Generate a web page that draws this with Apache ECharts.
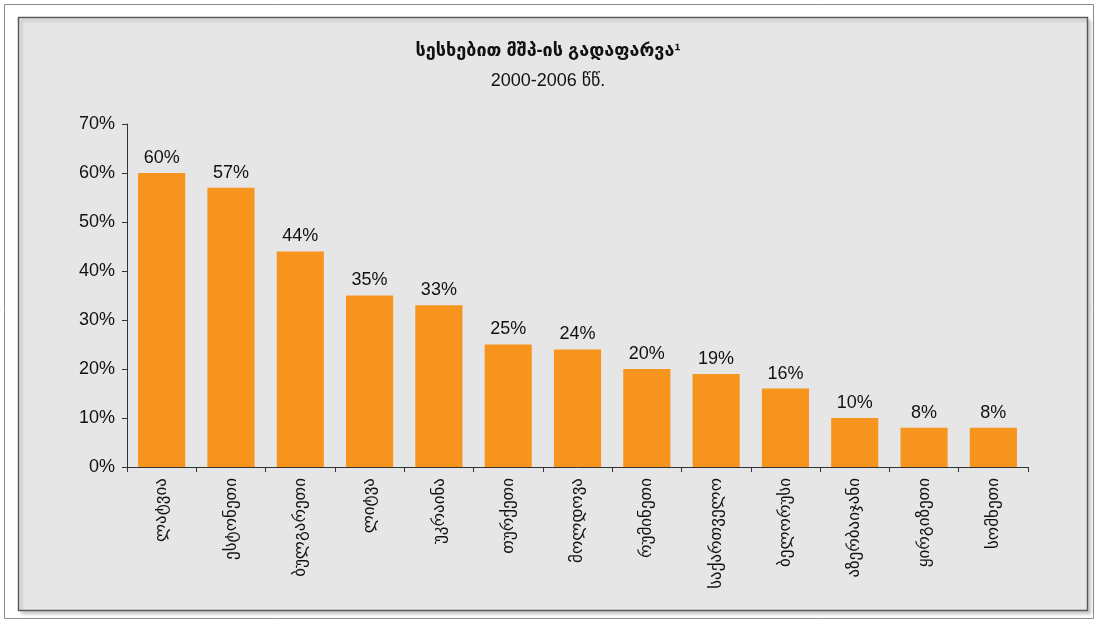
<!DOCTYPE html>
<html>
<head>
<meta charset="utf-8">
<script src="https://cdn.jsdelivr.net/npm/echarts@6/dist/echarts.min.js"></script>
<style>
  html, body { margin: 0; padding: 0; background: #ffffff; }
  #chart { width: 1096px; height: 621px; }
</style>
</head>
<body>
<div id="chart"></div>
<script>
// Loan-to-GDP coverage by country, 2000-2006
const countries = ['ლატვია', 'ესტონეთი', 'ბულგარეთი', 'ლიტვა', 'უკრაინა', 'თურქეთი', 'მოლდოვა', 'რუმინეთი', 'საქართველო', 'ბელორუსი', 'აზერბაიჯანი', 'ყირგიზეთი', 'სომხეთი'];
const coverage = [60, 57, 44, 35, 33, 25, 24, 20, 19, 16, 10, 8, 8];
const titleText = 'სესხებით მშპ-ის გადაფარვა¹';
const subtitleText = '2000-2006 წწ.';

const FONT = '"Liberation Sans", "DejaVu Sans", sans-serif';

const chart = echarts.init(document.getElementById('chart'), null, { renderer: 'canvas' });

chart.setOption({
  animation: false,
  backgroundColor: '#ffffff',
  graphic: [
    {
      type: 'rect', z: -10, silent: true,
      shape: { x: 4.5, y: 4.5, width: 1089, height: 614 },
      style: { fill: '#ffffff', stroke: '#8c8c8c', lineWidth: 1 }
    },
    {
      type: 'rect', z: -9, silent: true,
      shape: { x: 18.5, y: 17.5, width: 1069, height: 593 },
      style: {
        fill: '#e6e6e6', stroke: '#5a5a5a', lineWidth: 1.5,
        shadowColor: 'rgba(0,0,0,0.18)', shadowBlur: 3, shadowOffsetX: 3, shadowOffsetY: 3
      }
    }
  ],
  title: [
    {
      text: titleText,
      left: 'center', top: 37,
      textStyle: { fontFamily: FONT, fontSize: 18, fontWeight: 'bold', color: '#111111' }
    },
    {
      text: subtitleText,
      left: 'center', top: 67,
      textStyle: { fontFamily: FONT, fontSize: 18, fontWeight: 'normal', color: '#111111' }
    }
  ],
  grid: { left: 127, right: 68, top: 124, bottom: 154, containLabel: false },
  xAxis: {
    type: 'category',
    data: countries,
    axisLine: { lineStyle: { color: '#333333', width: 1 } },
    axisTick: { show: true, alignWithLabel: false, length: 5, lineStyle: { color: '#333333' } },
    axisLabel: {
      rotate: 90, interval: 0, margin: 11,
      fontFamily: FONT, fontSize: 17, color: '#111111'
    }
  },
  yAxis: {
    type: 'value',
    min: 0, max: 70, interval: 10,
    axisLine: { show: true, lineStyle: { color: '#333333', width: 1 } },
    axisTick: { show: true, length: 5, lineStyle: { color: '#333333' } },
    splitLine: { show: false },
    axisLabel: {
      formatter: '{value}%', margin: 12,
      fontFamily: FONT, fontSize: 18, color: '#111111'
    }
  },
  series: [
    {
      type: 'bar',
      data: coverage,
      barCategoryGap: '32%',
      itemStyle: { color: '#f7941d' },
      label: {
        show: true, position: 'top', distance: 6,
        formatter: '{c}%',
        fontFamily: FONT, fontSize: 18, color: '#111111'
      }
    }
  ]
});
</script>
</body>
</html>
